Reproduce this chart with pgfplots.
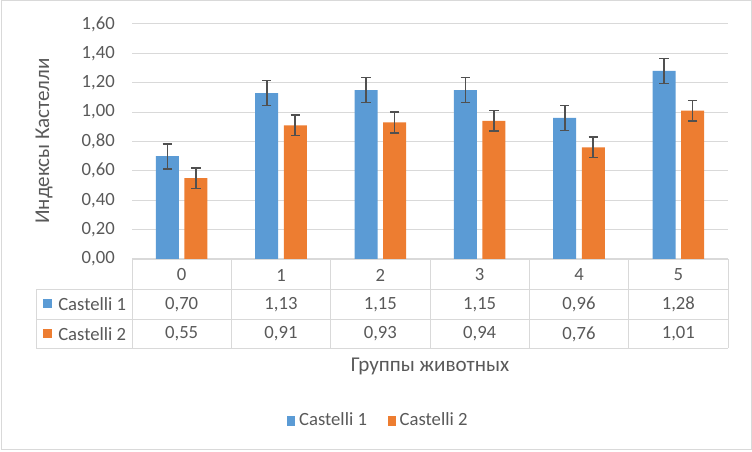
\documentclass[border=0pt]{standalone}
\usepackage{fontspec}
\setmainfont{Carlito}
\usepackage{pgfplots}
\usepackage{pgfplotstable}
\pgfplotsset{compat=1.18}
\definecolor{cblue}{HTML}{5B9BD5}
\definecolor{corange}{HTML}{ED7D31}
\definecolor{txt}{HTML}{595959}
\definecolor{gridc}{HTML}{D9D9D9}
\definecolor{errc}{HTML}{505050}
\pgfplotstableread{
x a ea b eb
0 0.70 0.085 0.55 0.07
1 1.13 0.085 0.91 0.07
2 1.15 0.085 0.93 0.07
3 1.15 0.085 0.94 0.07
4 0.96 0.085 0.76 0.07
5 1.28 0.085 1.01 0.07
}\data
\begin{document}
\fontsize{14}{16}\selectfont
\begin{tikzpicture}
\path[use as bounding box] (0pt,0pt) rectangle (564pt,339pt);
\begin{axis}[
  at={(99pt,144.75pt)}, anchor=south west,
  scale only axis, width=447pt, height=176.25pt,
  xmin=-0.5, xmax=5.5, ymin=0, ymax=1.6,
  ytick={0,0.2,0.4,0.6,0.8,1.0,1.2,1.4,1.6},
  xtick=\empty,
  ymajorgrids, major grid style={gridc, line width=0.75pt},
  axis line style={draw=none},
  major tick length=0pt,
  tick label style={text=txt},
  yticklabel style={inner sep=0pt, anchor=east, xshift=-12.75pt},
  /pgf/number format/.cd, assume math mode=true, use comma, fixed, fixed zerofill, precision=2,
  /pgfplots/.cd,
  ybar, bar width=17.25pt,
  legend columns=2,
  legend style={at={(0.415,-0.689)}, anchor=center, draw=none, fill=none,
    text=txt, inner sep=0pt, nodes={inner xsep=3pt, inner ysep=0pt},
    /tikz/every even column/.append style={column sep=12.5pt}},
  legend cell align=left,
  legend image code/.code={\fill[#1] (-2pt,-3.75pt) rectangle (4pt,3.75pt);},
  error bars/error bar style={errc, line width=1.25pt},
  error bars/error mark options={errc, line width=1.25pt, mark size=3.5pt, rotate=90},
]
\addplot[fill=cblue, draw=none, bar shift=-10.7pt,
  error bars/.cd, y dir=both, y explicit] table[x=x, y=a, y error=ea] {\data};
\addlegendentry{Castelli 1}
\addplot[fill=corange, draw=none, bar shift=10.7pt,
  error bars/.cd, y dir=both, y explicit] table[x=x, y=b, y error=eb] {\data};
\addlegendentry{Castelli 2}
\end{axis}
\begin{scope}[x=0.75pt, y=-0.75pt, shift={(0pt,339pt)}]
\draw[gridc, line width=0.75pt] (1,1) rectangle (751,450);
% y label
\node[rotate=90, text=txt, font=\fontsize{15.8}{18}\selectfont] at (44,141) {Индексы Кастелли};
% data table
\begin{scope}[gridc, line width=0.75pt]
\draw (132,259.5) -- (728,259.5);
\draw (36,289.5) -- (728,289.5);
\draw (36,319.5) -- (728,319.5);
\draw (36,348.5) -- (728,348.5);
\draw (36,289.5) -- (36,348.5);
\foreach \xx in {132,231.33,330.67,430,529.33,628.67,728} \draw (\xx,259.5) -- (\xx,348.5);
\end{scope}
\fill[cblue] (43,299) rectangle (51.5,308.5);
\fill[corange] (43,329) rectangle (51.5,338.5);
\node[anchor=west, text=txt, inner sep=0pt] at (58,304.5) {Castelli 1};
\node[anchor=west, text=txt, inner sep=0pt] at (58,334) {Castelli 2};
\foreach \i/\h/\ra/\rb in {0/0/{0,70}/{0,55},1/1/{1,13}/{0,91},2/2/{1,15}/{0,93},3/3/{1,15}/{0,94},4/4/{0,96}/{0,76},5/5/{1,28}/{1,01}}{
  \pgfmathsetmacro{\cx}{132+99.333*(\i+0.5)}
  \node[text=txt] at (\cx,275) {\h};
  \node[text=txt] at (\cx,304.5) {\ra};
  \node[text=txt] at (\cx,334) {\rb};
}
\node[text=txt, font=\fontsize{15.8}{18}\selectfont] at (430,366) {Группы животных};
\end{scope}
\end{tikzpicture}
\end{document}
